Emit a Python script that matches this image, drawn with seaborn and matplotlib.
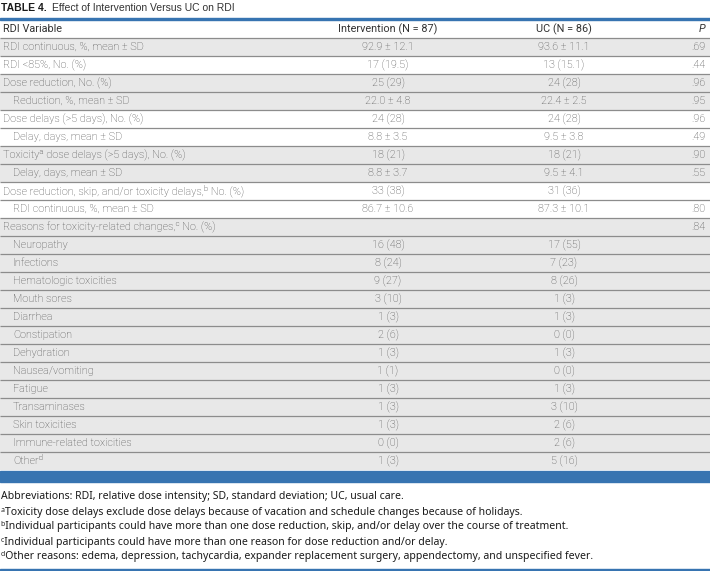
import numpy as np
import matplotlib
matplotlib.use("Agg")
import matplotlib.pyplot as plt
from matplotlib.colors import ListedColormap
from matplotlib.patches import Rectangle
import seaborn as sns

# ─── data ─────────────────────────────────────────────────────────────────────
TITLE_BOLD = "TABLE 4."
TITLE_TEXT = "Effect of Intervention Versus UC on RDI"
HEADERS = ["RDI Variable", "Intervention (N = 87)", "UC (N = 86)", "P"]

variables = [
    "RDI continuous, %, mean ± SD",
    "RDI <85%, No. (%)",
    "Dose reduction, No. (%)",
    "Reduction, %, mean ± SD",
    "Dose delays (>5 days), No. (%)",
    "Delay, days, mean ± SD",
    "Toxicityᵃ dose delays (>5 days), No. (%)",
    "Delay, days, mean ± SD",
    "Dose reduction, skip, and/or toxicity delays,ᵇ No. (%)",
    "RDI continuous, %, mean ± SD",
    "Reasons for toxicity-related changes,ᶜ No. (%)",
    "Neuropathy",
    "Infections",
    "Hematologic toxicities",
    "Mouth sores",
    "Diarrhea",
    "Constipation",
    "Dehydration",
    "Nausea/vomiting",
    "Fatigue",
    "Transaminases",
    "Skin toxicities",
    "Immune-related toxicities",
    "Otherᵈ",
]
indented = [0, 0, 0, 1, 0, 1, 0, 1, 0, 1, 0] + [1] * 13
intervention = [
    "92.9 ± 12.1", "17 (19.5)", "25 (29)", "22.0 ± 4.8", "24 (28)", "8.8 ± 3.5",
    "18 (21)", "8.8 ± 3.7", "33 (38)", "86.7 ± 10.6", "",
    "16 (48)", "8 (24)", "9 (27)", "3 (10)", "1 (3)", "2 (6)", "1 (3)", "1 (1)",
    "1 (3)", "1 (3)", "1 (3)", "0 (0)", "1 (3)",
]
usual_care = [
    "93.6 ± 11.1", "13 (15.1)", "24 (28)", "22.4 ± 2.5", "24 (28)", "9.5 ± 3.8",
    "18 (21)", "9.5 ± 4.1", "31 (36)", "87.3 ± 10.1", "",
    "17 (55)", "7 (23)", "8 (26)", "1 (3)", "1 (3)", "0 (0)", "1 (3)", "0 (0)",
    "1 (3)", "3 (10)", "2 (6)", "2 (6)", "5 (16)",
]
p_values = [
    ".69", ".44", ".96", ".95", ".96", ".49", ".90", ".55", "", ".80", ".84",
    "", "", "", "", "", "", "", "", "", "", "", "", "",
]
# row band shading: header first, then each data row (1 = grey band)
shading = [0, 1, 0, 1, 1, 0, 0, 1, 1, 0, 0] + [1] * 14

footnotes = [
    "Abbreviations: RDI, relative dose intensity; SD, standard deviation; UC, usual care.",
    "ᵃToxicity dose delays exclude dose delays because of vacation and schedule changes because of holidays.",
    "ᵇIndividual participants could have more than one dose reduction, skip, and/or delay over the course of treatment.",
    "ᶜIndividual participants could have more than one reason for dose reduction and/or delay.",
    "ᵈOther reasons: edema, depression, tachycardia, expander replacement surgery, appendectomy, and unspecified fever.",
]

# ─── style ────────────────────────────────────────────────────────────────────
W, H = 710, 571
BLUE = "#3774b1"
GREY = "#e8e8e8"
LINE = "#8c8c8c"
BODY = "#4a4a4a"

sns.set_theme(style="white")
plt.rcParams["font.family"] = ["Roboto", "DejaVu Sans"]

fig = plt.figure(figsize=(W / 100, H / 100), dpi=100)
fig.patch.set_facecolor("white")

# table area: header + 24 rows, 18 px each, from y=20 to y=470
top, bottom = 20, 470
ax = fig.add_axes([0, 1 - bottom / H, 1, (bottom - top) / H])
sns.heatmap(
    np.array(shading).reshape(-1, 1), ax=ax,
    cmap=ListedColormap(["#ffffff", GREY]), vmin=0, vmax=1,
    cbar=False, xticklabels=False, yticklabels=False,
)
n = len(shading)
ax.hlines(np.arange(1, n), 0, 1, color=LINE, lw=0.9)
ax.set_xlim(0, 1)
ax.set_ylim(n, 0)
ax.axis("off")

X_LABEL, X_INDENT, X_INT, X_UC, X_P = 3 / W, 13 / W, 388 / W, 564 / W, 705 / W
FS = 7.8

ax.text(X_LABEL, 0.5, HEADERS[0], ha="left", va="center", fontsize=FS, color="#333333")
ax.text(X_INT, 0.5, HEADERS[1], ha="center", va="center", fontsize=FS, color="#333333")
ax.text(X_UC, 0.5, HEADERS[2], ha="center", va="center", fontsize=FS, color="#333333")
ax.text(X_P, 0.5, HEADERS[3], ha="right", va="center", fontsize=FS, color="#333333",
        style="italic")

for i, (lab, ind, a, b, p) in enumerate(zip(variables, indented, intervention, usual_care, p_values)):
    y = i + 1.5
    ax.text(X_INDENT if ind else X_LABEL, y, lab, ha="left", va="center",
            fontsize=FS, color=BODY, fontweight="light")
    ax.text(X_INT, y, a, ha="center", va="center", fontsize=FS, color=BODY, fontweight="light")
    ax.text(X_UC, y, b, ha="center", va="center", fontsize=FS, color=BODY, fontweight="light")
    ax.text(X_P, y, p, ha="right", va="center", fontsize=FS, color=BODY, fontweight="light")

# rules and title
def px_rect(y0, h, color):
    fig.patches.append(Rectangle((0, 1 - (y0 + h) / H), 1, h / H,
                                 transform=fig.transFigure, color=color, zorder=5))

px_rect(18, 2, BLUE)
px_rect(471, 11, BLUE)
px_rect(569, 2, BLUE)

TITLE_FONT = ["Liberation Sans", "DejaVu Sans"]
fig.text(1 / W, 1 - 8 / H, TITLE_BOLD, ha="left", va="center", fontsize=7.5,
         fontweight="bold", color="#1a1a1a", family=TITLE_FONT)
fig.text(52 / W, 1 - 8 / H, TITLE_TEXT, ha="left", va="center", fontsize=7.5,
         color="#333333", family=TITLE_FONT)

for k, note in enumerate(footnotes):
    fig.text(1 / W, 1 - (497 + 15 * k) / H, note, ha="left", va="center",
             fontsize=7.55, color="#1a1a1a", family=["Noto Sans", "DejaVu Sans"])

fig.savefig("out.png", dpi=100)
